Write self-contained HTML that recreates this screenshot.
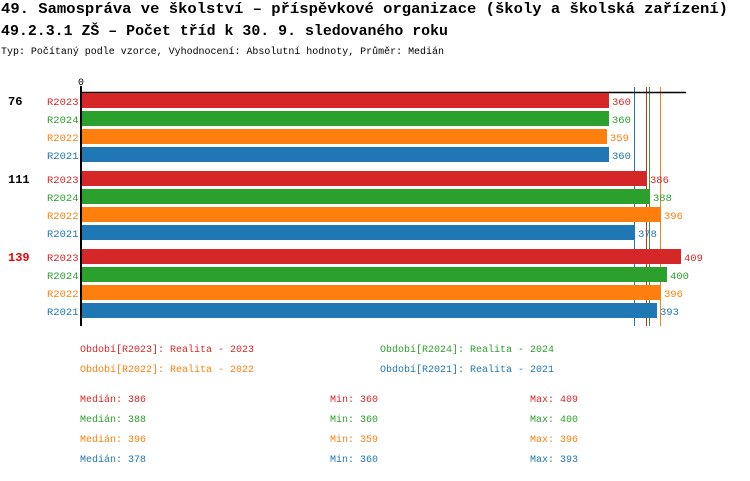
<!DOCTYPE html>
<html><head><meta charset="utf-8"><style>
body{margin:0;background:#fff;}
svg text{font-family:"Liberation Mono","DejaVu Sans Mono",monospace;}
</style></head><body>
<svg width="750" height="476" xmlns="http://www.w3.org/2000/svg">
<text x="1" y="13" font-size="15" font-weight="bold" textLength="727" lengthAdjust="spacingAndGlyphs">49. Samospráva ve školství – příspěvkové organizace (školy a školská zařízení)</text>
<text x="1" y="35" font-size="15" font-weight="bold" textLength="447" lengthAdjust="spacingAndGlyphs">49.2.3.1 ZŠ – Počet tříd k 30. 9. sledovaného roku</text>
<text x="1" y="54" font-size="10" textLength="443" lengthAdjust="spacingAndGlyphs">Typ: Počítaný podle vzorce, Vyhodnocení: Absolutní hodnoty, Průměr: Medián</text>
<text x="78" y="85" font-size="10">0</text>
<line x1="634.5" y1="87" x2="634.5" y2="326" stroke="#1f77b4" stroke-width="1"/>
<line x1="646.5" y1="87" x2="646.5" y2="326" stroke="#d62728" stroke-width="1"/>
<line x1="649.5" y1="87" x2="649.5" y2="326" stroke="#2ca02c" stroke-width="1"/>
<line x1="660.5" y1="87" x2="660.5" y2="326" stroke="#ff7f0e" stroke-width="1"/>
<line x1="80" y1="92.5" x2="686" y2="92.5" stroke="#000" stroke-width="1.5"/>
<g font-size="11">
<text x="8" y="105" font-weight="bold" font-size="12">76</text>
<text x="8" y="183" font-weight="bold" font-size="12">111</text>
<text x="8" y="261" font-weight="bold" font-size="12" fill="#e00">139</text>
</g>
<g font-size="10.5">
<rect x="81" y="93" width="528" height="15" fill="#d62728"/><text x="47" y="105" fill="#d62728">R2023</text><text x="612" y="105" fill="#d62728">360</text>
<rect x="81" y="111" width="528" height="15" fill="#2ca02c"/><text x="47" y="123" fill="#2ca02c">R2024</text><text x="612" y="123" fill="#2ca02c">360</text>
<rect x="81" y="129" width="526" height="15" fill="#ff7f0e"/><text x="47" y="141" fill="#ff7f0e">R2022</text><text x="610" y="141" fill="#ff7f0e">359</text>
<rect x="81" y="147" width="528" height="15" fill="#1f77b4"/><text x="47" y="159" fill="#1f77b4">R2021</text><text x="612" y="159" fill="#1f77b4">360</text>

<rect x="81" y="171" width="566" height="15" fill="#d62728"/><text x="47" y="183" fill="#d62728">R2023</text><text x="650" y="183" fill="#d62728">386</text>
<rect x="81" y="189" width="569" height="15" fill="#2ca02c"/><text x="47" y="201" fill="#2ca02c">R2024</text><text x="653" y="201" fill="#2ca02c">388</text>
<rect x="81" y="207" width="580" height="15" fill="#ff7f0e"/><text x="47" y="219" fill="#ff7f0e">R2022</text><text x="664" y="219" fill="#ff7f0e">396</text>
<rect x="81" y="225" width="554" height="15" fill="#1f77b4"/><text x="47" y="237" fill="#1f77b4">R2021</text><text x="638" y="237" fill="#1f77b4">378</text>

<rect x="81" y="249" width="600" height="15" fill="#d62728"/><text x="47" y="261" fill="#d62728">R2023</text><text x="684" y="261" fill="#d62728">409</text>
<rect x="81" y="267" width="586" height="15" fill="#2ca02c"/><text x="47" y="279" fill="#2ca02c">R2024</text><text x="670" y="279" fill="#2ca02c">400</text>
<rect x="81" y="285" width="580" height="15" fill="#ff7f0e"/><text x="47" y="297" fill="#ff7f0e">R2022</text><text x="664" y="297" fill="#ff7f0e">396</text>
<rect x="81" y="303" width="576" height="15" fill="#1f77b4"/><text x="47" y="315" fill="#1f77b4">R2021</text><text x="660" y="315" fill="#1f77b4">393</text>
</g>
<line x1="81" y1="86" x2="81" y2="326" stroke="#000" stroke-width="2"/>
<g font-size="10">
<text x="80" y="352" fill="#d62728">Období[R2023]: Realita - 2023</text>
<text x="380" y="352" fill="#2ca02c">Období[R2024]: Realita - 2024</text>
<text x="80" y="372" fill="#ff7f0e">Období[R2022]: Realita - 2022</text>
<text x="380" y="372" fill="#1f77b4">Období[R2021]: Realita - 2021</text>
<text x="80" y="402" fill="#d62728">Medián: 386</text><text x="330" y="402" fill="#d62728">Min: 360</text><text x="530" y="402" fill="#d62728">Max: 409</text>
<text x="80" y="422" fill="#2ca02c">Medián: 388</text><text x="330" y="422" fill="#2ca02c">Min: 360</text><text x="530" y="422" fill="#2ca02c">Max: 400</text>
<text x="80" y="442" fill="#ff7f0e">Medián: 396</text><text x="330" y="442" fill="#ff7f0e">Min: 359</text><text x="530" y="442" fill="#ff7f0e">Max: 396</text>
<text x="80" y="462" fill="#1f77b4">Medián: 378</text><text x="330" y="462" fill="#1f77b4">Min: 360</text><text x="530" y="462" fill="#1f77b4">Max: 393</text>
</g>
</svg>
</body></html>
